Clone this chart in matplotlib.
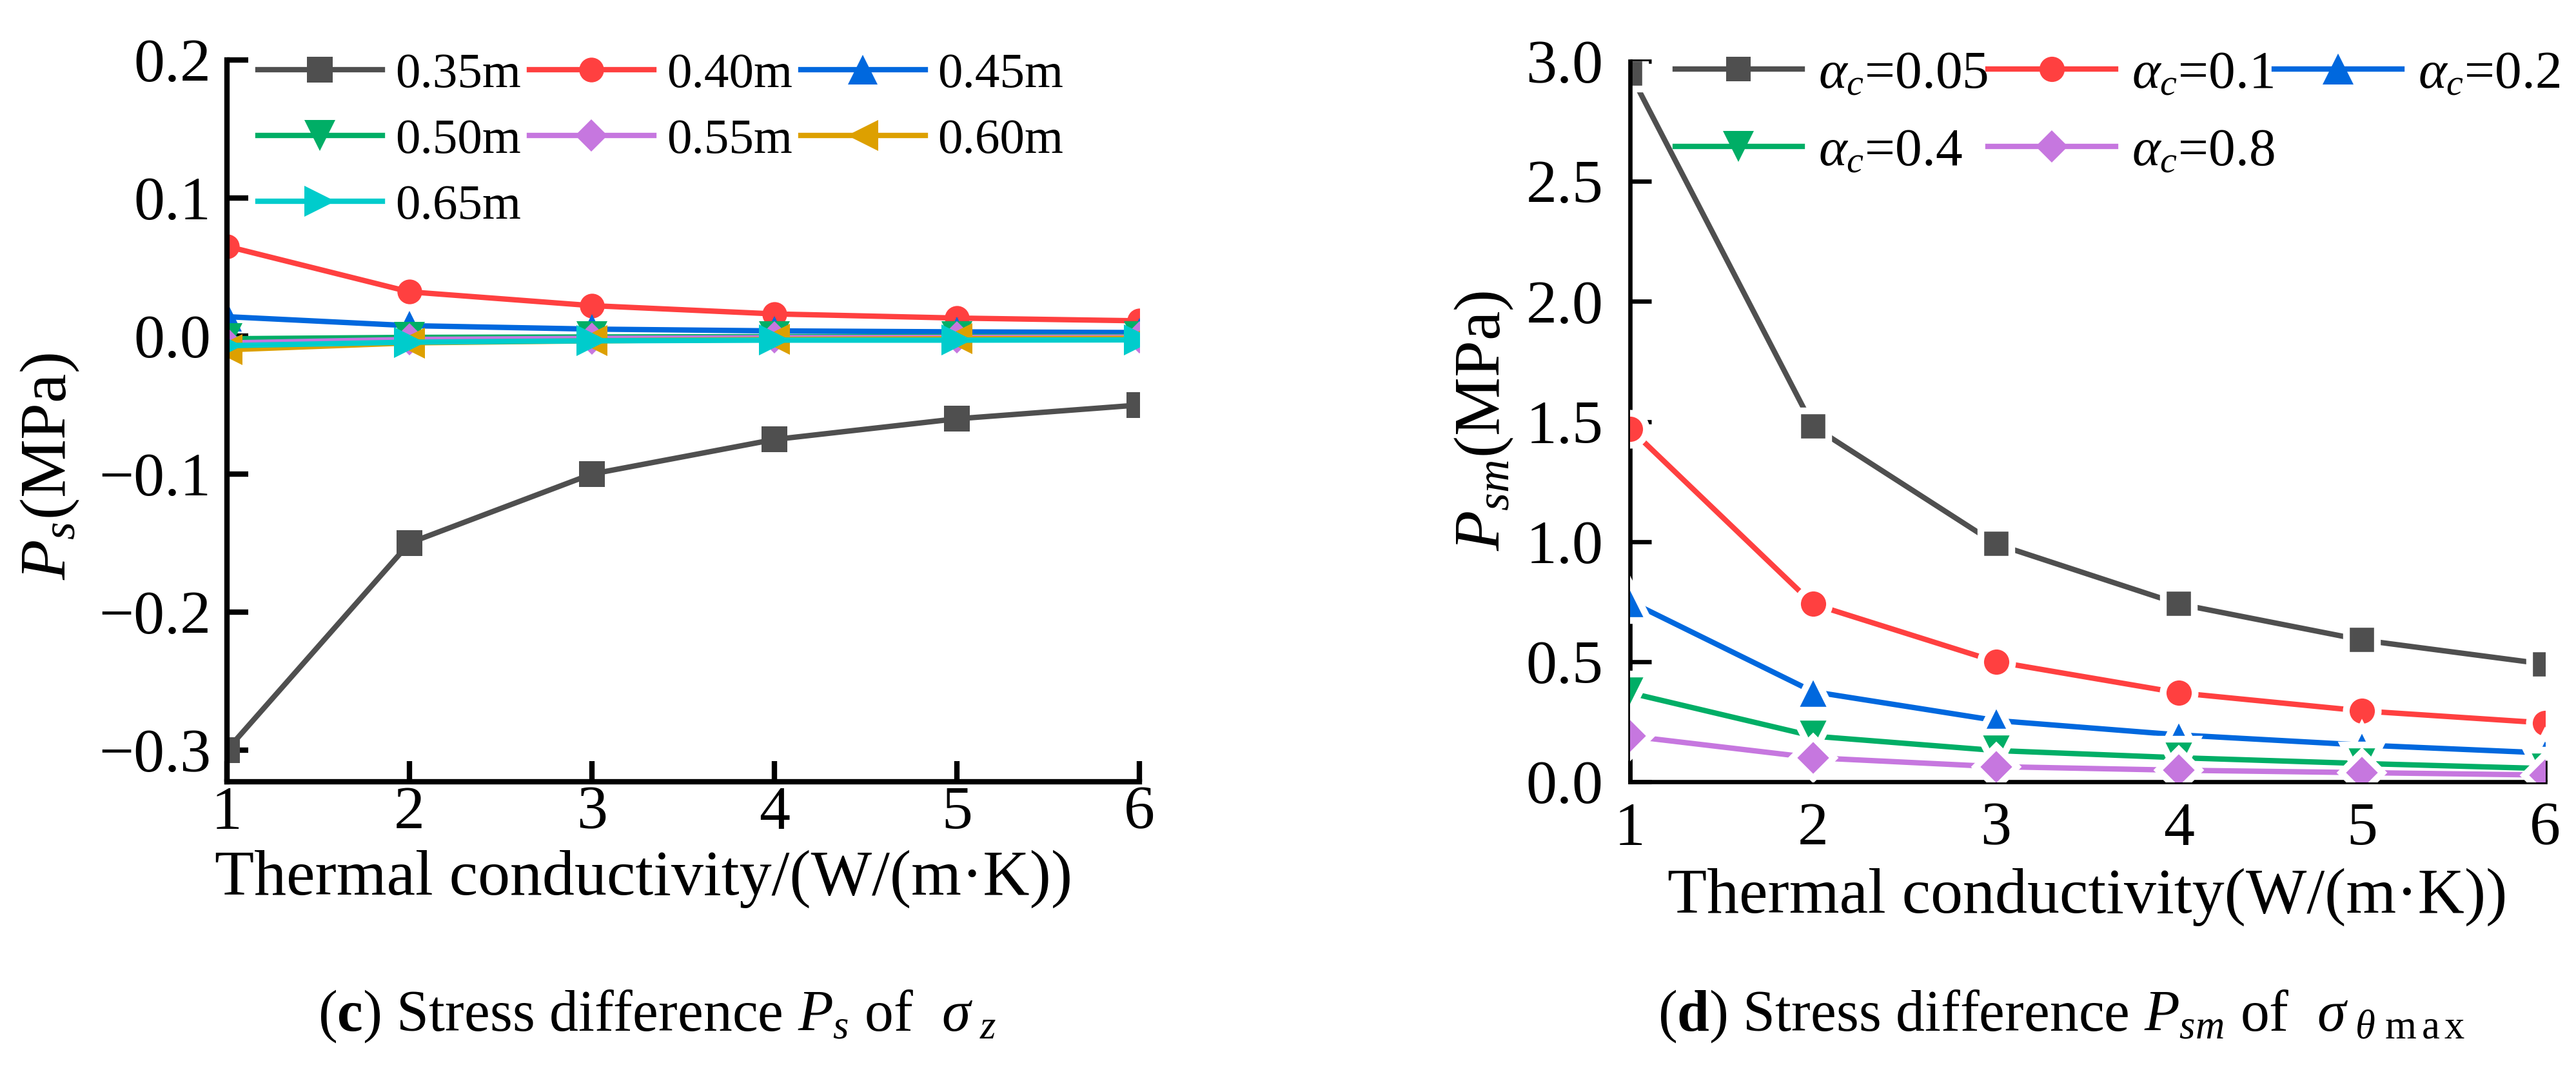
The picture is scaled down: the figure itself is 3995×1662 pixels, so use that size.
import matplotlib
matplotlib.use("Agg")
import matplotlib.pyplot as plt
from matplotlib.lines import Line2D

plt.rcParams['font.family'] = ['Liberation Serif', 'DejaVu Serif']
plt.rcParams['mathtext.fontset'] = 'custom'
plt.rcParams['mathtext.rm'] = 'Liberation Serif'
plt.rcParams['mathtext.it'] = 'Liberation Serif:italic'
plt.rcParams['mathtext.bf'] = 'Liberation Serif:bold'
plt.rcParams['axes.unicode_minus'] = True

# ---------------- data ----------------
k = [1, 2, 3, 4, 5, 6]

ps_labels = ['0.35m', '0.40m', '0.45m', '0.50m', '0.55m', '0.60m', '0.65m']
ps_035 = [-0.30, -0.15, -0.10, -0.075, -0.06, -0.05]
ps_040 = [0.065, 0.032, 0.022, 0.016, 0.013, 0.011]
ps_045 = [0.014, 0.0075, 0.005, 0.0037, 0.003, 0.0025]
ps_050 = [-0.002, -0.001, -0.0007, -0.0005, -0.0004, -0.0003]
ps_055 = [-0.005, -0.0025, -0.0017, -0.0012, -0.001, -0.0008]
ps_060 = [-0.010, -0.005, -0.0035, -0.0025, -0.002, -0.0017]
ps_065 = [-0.007, -0.0045, -0.0035, -0.003, -0.003, -0.0028]

psm_labels = [r'$\alpha_c$=0.05', r'$\alpha_c$=0.1', r'$\alpha_c$=0.2',
              r'$\alpha_c$=0.4', r'$\alpha_c$=0.8']
psm_005 = [2.95, 1.48, 0.99, 0.74, 0.59, 0.49]
psm_01 = [1.47, 0.74, 0.50, 0.37, 0.295, 0.245]
psm_02 = [0.75, 0.375, 0.255, 0.195, 0.153, 0.12]
psm_04 = [0.37, 0.19, 0.13, 0.10, 0.076, 0.055]
psm_08 = [0.19, 0.10, 0.063, 0.048, 0.038, 0.028]

left_yticks = [-0.3, -0.2, -0.1, 0.0, 0.1, 0.2]
left_yticklabels = ['\u22120.3', '\u22120.2', '\u22120.1', '0.0', '0.1', '0.2']
right_yticks = [0.0, 0.5, 1.0, 1.5, 2.0, 2.5, 3.0]
right_yticklabels = ['0.0', '0.5', '1.0', '1.5', '2.0', '2.5', '3.0']
xticks = [1, 2, 3, 4, 5, 6]
xticklabels = ['1', '2', '3', '4', '5', '6']

# ---------------- style ----------------
colors = ['#4f4f4f', '#ff4040', '#0068de', '#00ae66', '#c677df', '#dda000', '#00cccc']
markers = ['s', 'o', '^', 'v', 'D', '<', '>']
msizes = [9.4, 9.2, 11.0, 11.3, 8.5, 11.5, 11.5]

W, H = 3995, 1662
DPI = 300
fig = plt.figure(figsize=(W / DPI, H / DPI), dpi=DPI)

def fx(px):
    return px / W

def fy(py):
    return 1 - py / H

axL = fig.add_axes([fx(352), fy(1212), fx(1767 - 352), (1212 - 93) / H])
axR = fig.add_axes([fx(2528), fy(1212), fx(3947 - 2528), (1212 - 95) / H])

# ---------------- left panel ----------------
left_series = [ps_035, ps_040, ps_045, ps_050, ps_055, ps_060, ps_065]
hL = []
for i, ys in enumerate(left_series):
    ln, = axL.plot(k, ys, color=colors[i], lw=2.0, marker=markers[i],
                   ms=msizes[i], mec=colors[i], mfc=colors[i], mew=0,
                   label=ps_labels[i])
    hL.append(ln)

axL.set_xlim(1, 6)
axL.set_ylim(-0.323, 0.2)
axL.set_xticks(xticks)
axL.set_xticklabels(xticklabels)
axL.set_yticks(left_yticks)
axL.set_yticklabels(left_yticklabels)
for s in ['top', 'right']:
    axL.spines[s].set_visible(False)
for s in ['left', 'bottom']:
    axL.spines[s].set_linewidth(2.0)
axL.tick_params(axis='both', direction='in', length=7.8, width=2.0,
                labelsize=23)
axL.tick_params(axis='x', pad=1.5)
axL.tick_params(axis='y', pad=6)

orderL = [0, 3, 6, 1, 4, 2, 5]
legL = axL.legend([hL[i] for i in orderL], [ps_labels[i] for i in orderL],
                  ncol=3, loc='upper left', bbox_to_anchor=(0.034, 1.011),
                  frameon=False, fontsize=18.5, handlelength=2.5,
                  handletextpad=0.26, columnspacing=0.17, labelspacing=0.42,
                  borderpad=0, borderaxespad=0)

# ---------------- right panel ----------------
right_series = [psm_005, psm_01, psm_02, psm_04, psm_08]
r_fill = [8.9, 9.4, 11.5, 11.5, 8.5]
halo = 2.5
proxies = []
for i, ys in enumerate(right_series):
    axR.plot(k, ys, color=colors[i], lw=2.0, solid_capstyle='round', zorder=2 + i)
    axR.plot(k, ys, ls='none', marker=markers[i], ms=r_fill[i] + halo,
             mfc=colors[i], mec='white', mew=halo, zorder=2 + i)
    proxies.append(Line2D([], [], color=colors[i], lw=2.0, marker=markers[i],
                          ms=r_fill[i], mfc=colors[i], mec=colors[i], mew=0))

axR.set_xlim(1, 6)
axR.set_ylim(0, 3.0)
axR.set_xticks(xticks)
axR.set_xticklabels(xticklabels)
axR.set_yticks(right_yticks)
axR.set_yticklabels(right_yticklabels)
for s in ['top', 'right']:
    axR.spines[s].set_visible(False)
for s in ['left', 'bottom']:
    axR.spines[s].set_linewidth(1.6)
axR.tick_params(axis='both', direction='in', length=8, width=1.6, labelsize=23)
axR.tick_params(axis='x', pad=7.5)
axR.tick_params(axis='y', pad=10)

orderR = [0, 3, 1, 4, 2]
legR = axR.legend([proxies[i] for i in orderR], [psm_labels[i] for i in orderR],
                  ncol=3, loc='upper left', bbox_to_anchor=(0.049, 1.015),
                  frameon=False, fontsize=20, handlelength=2.37,
                  handletextpad=0.3, columnspacing=0.0, labelspacing=0.52,
                  borderpad=0, borderaxespad=0)

# ---------------- labels ----------------
fig.text(fx(78), fy(723), r'$P_s$(MPa)', rotation=90, ha='center', va='center',
         fontsize=24.5)
fig.text(fx(2302), fy(652), r'$P_{sm}$(MPa)', rotation=90, ha='center',
         va='center', fontsize=24.5)

fig.text(fx(998), fy(1387), 'Thermal conductivity/(W/(m\u00b7K))', ha='center',
         va='baseline', fontsize=24)
fig.text(fx(3237), fy(1415), 'Thermal conductivity(W/(m\u00b7K))', ha='center',
         va='baseline', fontsize=24)

fig.text(fx(1019), fy(1598),
         r'($\mathbf{c}$) Stress difference $P_s$ of  $\sigma_{\ z}$',
         ha='center', va='baseline', fontsize=21.5)
fig.text(fx(3197), fy(1598),
         r'($\mathbf{d}$) Stress difference $P_{sm}$ of  $\sigma_{\ \theta\ \mathrm{m\,a\,x}}$',
         ha='center', va='baseline', fontsize=21.5)

fig.savefig('out.png', dpi=DPI)
